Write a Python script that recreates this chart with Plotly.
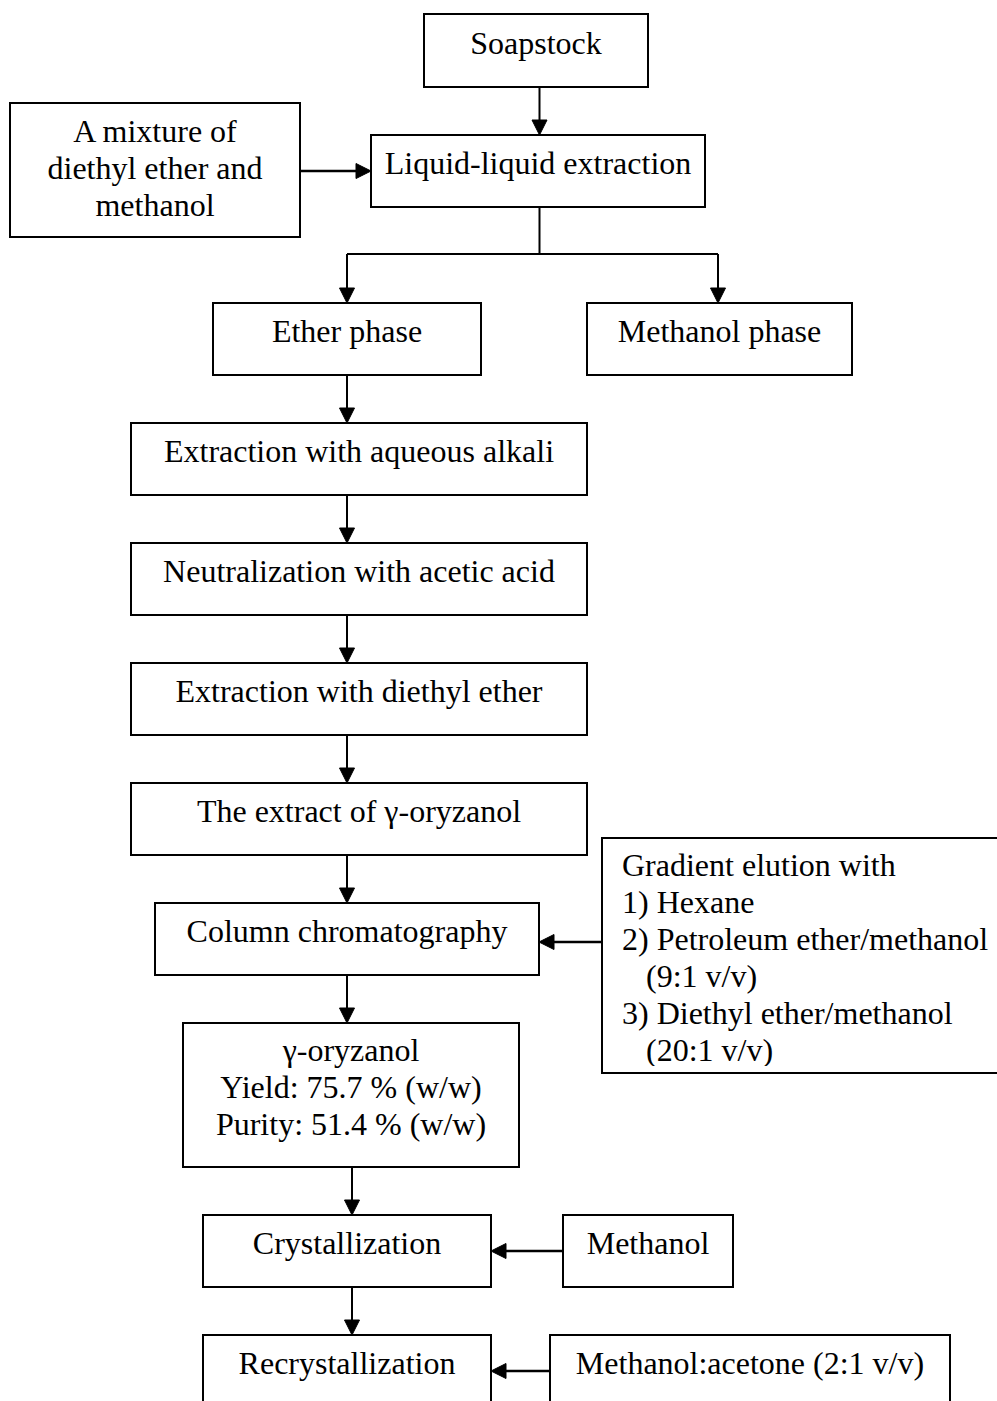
import plotly.graph_objects as go

# text of each box, one entry per printed line
box_text = [
    ["Soapstock"],
    ["A mixture of", "diethyl ether and", "methanol"],
    ["Liquid-liquid extraction"],
    ["Ether phase"],
    ["Methanol phase"],
    ["Extraction with aqueous alkali"],
    ["Neutralization with acetic acid"],
    ["Extraction with diethyl ether"],
    ["The extract of γ-oryzanol"],
    ["Column chromatography"],
    ["γ-oryzanol", "Yield: 75.7 % (w/w)", "Purity: 51.4 % (w/w)"],
    ["Crystallization"],
    ["Methanol"],
    ["Recrystallization"],
    ["Methanol:acetone (2:1 v/v)"],
]
elution_text = [
    "Gradient elution with",
    "1) Hexane",
    "2) Petroleum ether/methanol",
    "\u00a0\u00a0\u00a0(9:1 v/v)",
    "3) Diethyl ether/methanol",
    "\u00a0\u00a0\u00a0(20:1 v/v)",
]

# layout of the boxes in page pixels (left, right, top, bottom)
box_x0 = [424, 10, 371, 213, 587, 131, 131, 131, 131, 155, 183, 203, 563, 203, 550]
box_x1 = [648, 300, 705, 481, 852, 587, 587, 587, 587, 539, 519, 491, 733, 491, 950]
box_y0 = [14, 103, 135, 303, 303, 423, 543, 663, 783, 903, 1023, 1215, 1215, 1335, 1335]
box_y1 = [87, 237, 207, 375, 375, 495, 615, 735, 855, 975, 1167, 1287, 1287, 1430, 1430]
text_nudge = [0, 6, 0, 0, 0, 0, 0, 0, 0, 0, 0, 0, 0, 0, 0]
elution_box = (602, 1010, 838, 1073)

# vertical arrows: (from box, to box, x)
down_links = [(0, 2, 539.5), (3, 5, 347), (5, 6, 347), (6, 7, 347), (7, 8, 347),
              (8, 9, 347), (9, 10, 347), (10, 11, 352), (11, 13, 352)]
# horizontal arrows into the left-hand boxes: (from box, to box, y)
side_links = [(1, 2, 171), (12, 11, 1251), (14, 13, 1371)]

FONT = dict(family="Liberation Serif, Times New Roman, serif", size=32, color="black")
LINE_H = 37
LW = 2

shapes = []


def seg(x0, y0, x1, y1, w=LW):
    shapes.append(dict(type="line", x0=x0, y0=y0, x1=x1, y1=y1, xref="x", yref="y",
                       line=dict(color="black", width=w), layer="above"))


def arrow(x0, y0, x1, y1):
    L, H = 15, 7.5
    if x0 == x1:
        s = 1 if y1 > y0 else -1
        seg(x0, y0, x1, y1 - s * L)
        p = f"M{x1},{y1} L{x1 - H},{y1 - s * L} L{x1 + H},{y1 - s * L} Z"
    else:
        s = 1 if x1 > x0 else -1
        seg(x0, y0, x1 - s * L, y1, 2.5)
        p = f"M{x1},{y1} L{x1 - s * L},{y1 - H} L{x1 - s * L},{y1 + H} Z"
    shapes.append(dict(type="path", path=p, xref="x", yref="y", fillcolor="black",
                       line=dict(color="black", width=1), layer="above"))


for x0, x1, y0, y1 in zip(box_x0, box_x1, box_y0, box_y1):
    shapes.append(dict(type="rect", x0=x0, x1=x1, y0=y0, y1=y1, xref="x", yref="y",
                       line=dict(color="black", width=LW), fillcolor="rgba(0,0,0,0)",
                       layer="above"))

for a, b, x in down_links:
    arrow(x, box_y1[a], x, box_y0[b])
for a, b, y in side_links:
    arrow(box_x1[a] if box_x1[a] < box_x0[b] else box_x0[a], y,
          box_x0[b] if box_x1[a] < box_x0[b] else box_x1[b], y)

# split after liquid-liquid extraction
split_y = 254
seg(539.5, box_y1[2], 539.5, split_y)
seg(347, split_y, 718, split_y)
arrow(347, split_y, 347, box_y0[3])
arrow(718, split_y, 718, box_y0[4])

# elution box: its last line is cut off just above the bottom border
ex0, ex1, ey0, ey1 = elution_box
shapes.append(dict(type="rect", x0=ex0 + 1.5, x1=ex1, y0=ey1 - 7, y1=ey1 + 40, xref="x",
                   yref="y", line=dict(width=0), fillcolor="white", layer="above"))
shapes.append(dict(type="rect", x0=ex0, x1=ex1, y0=ey0, y1=ey1, xref="x", yref="y",
                   line=dict(color="black", width=LW), fillcolor="rgba(0,0,0,0)",
                   layer="above"))
arrow(ex0, 942, box_x1[9], 942)

# text
tx, ty, tt = [], [], []
for lines, x0, x1, y0, y1, dy in zip(box_text, box_x0, box_x1, box_y0, box_y1, text_nudge):
    yb = y1 if y1 < 1401 else 1407
    cy = (y0 + yb) / 2 - 5 + dy
    n = len(lines)
    for i, s in enumerate(lines):
        tx.append((x0 + x1) / 2)
        ty.append(cy + (i - (n - 1) / 2) * LINE_H)
        tt.append(s)

fig = go.Figure()
fig.add_trace(go.Scatter(x=tx, y=ty, text=tt, mode="text", textposition="middle center",
                         textfont=FONT, hoverinfo="skip"))
fig.add_trace(go.Scatter(x=[622] * len(elution_text),
                         y=[ey0 + 30 + i * LINE_H for i in range(len(elution_text))],
                         text=elution_text, mode="text", textposition="middle right",
                         textfont=FONT, hoverinfo="skip"))

fig.update_layout(
    width=997, height=1401, margin=dict(l=0, r=0, t=0, b=0),
    paper_bgcolor="white", plot_bgcolor="white", showlegend=False,
    shapes=shapes,
    xaxis=dict(range=[0, 997], visible=False, fixedrange=True),
    yaxis=dict(range=[1401, 0], visible=False, fixedrange=True),
)

fig.write_html("out.html", config={"displayModeBar": False},
               post_script="document.body.style.margin='0';")
